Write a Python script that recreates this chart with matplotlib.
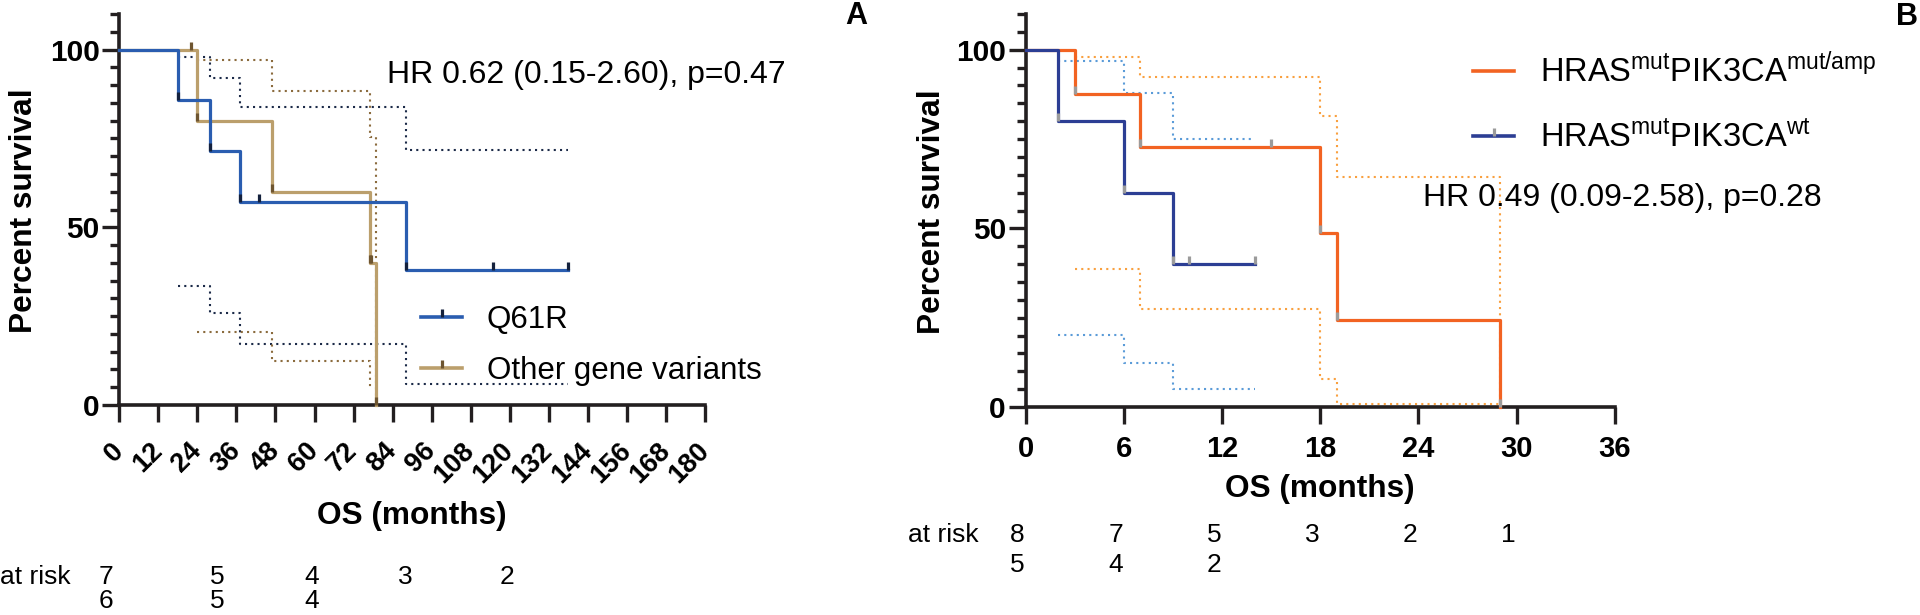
import matplotlib.pyplot as plt
from matplotlib.lines import Line2D
from matplotlib.ticker import FixedLocator
from matplotlib.transforms import blended_transform_factory

plt.rcParams['font.family'] = ['Liberation Sans', 'DejaVu Sans']
plt.rcParams['mathtext.fontset'] = 'custom'
plt.rcParams['mathtext.rm'] = 'Liberation Sans'
plt.rcParams['mathtext.it'] = 'Liberation Sans:italic'
plt.rcParams['mathtext.bf'] = 'Liberation Sans:bold'

# ---- panel A: Q61R vs other gene variants ----
q61r_t = [0, 18, 28, 37, 43, 88, 115, 138]
q61r_s = [100, 85.7, 71.4, 57.1, 57.1, 38.1, 38.1, 38.1]
q61r_ci_t = [18, 28, 37, 88, 138]
q61r_hi = [97.9, 92.1, 83.8, 71.8, 71.8]
q61r_lo = [33.4, 25.8, 17.1, 5.9, 5.9]

other_t = [0, 22, 24, 47, 77, 77.5, 79]
other_s = [100, 100, 80, 60, 40, 40, 0]
other_hi_t = [24, 47, 77, 79, 79]
other_hi = [97.0, 88.3, 75.5, 74.5, 0]
other_lo_t = [24, 47, 77, 78]
other_lo = [20.4, 12.5, 5.0, 5.0]

risk_a = [[7, 5, 4, 3, 2], [6, 5, 4]]
hr_a = 'HR 0.62 (0.15-2.60), p=0.47'

# ---- panel B: HRAS/PIK3CA ----
amp_t = [0, 3, 7, 15, 18, 19, 29]
amp_s = [100, 87.5, 72.9, 72.9, 48.6, 24.3, 0]
amp_hi_t = [3, 7, 18, 19, 29, 29]
amp_hi = [98.0, 92.4, 81.5, 64.3, 64.3, 0]
amp_lo_t = [3, 7, 18, 19, 29]
amp_lo = [38.6, 27.4, 7.7, 0.8, 0.8]

wt_t = [0, 2, 6, 9, 10, 14]
wt_s = [100, 80, 60, 40, 40, 40]
wt_ci_t = [2, 6, 9, 14]
wt_hi = [96.8, 87.9, 75.1, 75.1]
wt_lo = [20.1, 12.4, 4.9, 4.9]

risk_b = [[8, 7, 5, 3, 2, 1], [5, 4, 2]]
hr_b = 'HR 0.49 (0.09-2.58), p=0.28'

W, H = 1920, 615
AXC = '#231f20'


def fx(x):
    return x / W


def fy(y):
    return 1 - y / H


def km(ax, t, s, color, mcolor):
    ax.step(t, s, where='post', color=color, lw=2.3, clip_on=False, zorder=3)
    ax.plot(t[1:], s[1:], ls='none', marker=2, ms=5.5, mew=2.3,
            color=mcolor, clip_on=False, zorder=4)


def ci(ax, t, v, color):
    ax.step(t, v, where='post', color=color, lw=1.5, ls=(0, (1, 2)),
            clip_on=False, zorder=2)


def style(ax):
    for sp in ['top', 'right']:
        ax.spines[sp].set_visible(False)
    for sp in ['left', 'bottom']:
        ax.spines[sp].set_linewidth(2.6)
        ax.spines[sp].set_color(AXC)
    ax.set_ylim(0, 110)
    ax.set_yticks([0, 50, 100])
    ax.yaxis.set_minor_locator(FixedLocator(range(0, 115, 5)))
    ax.tick_params(which='major', length=12.2, width=2.4, color=AXC)
    ax.tick_params(which='minor', axis='y', length=6.5, width=2.4, color=AXC)
    ax.tick_params(axis='y', pad=2, labelsize=21.5)
    for lab in ax.get_yticklabels():
        lab.set_fontweight('bold')
    ax.set_ylabel('Percent survival', fontweight='bold', fontsize=22.8)
    ax.set_xlabel('OS (months)', fontweight='bold', fontsize=22.8)


fig = plt.figure(figsize=(19.2, 6.15), dpi=100)
ax1 = fig.add_axes([fx(119.3), fy(405), 585.7 / W, 391 / H])
ax2 = fig.add_axes([fx(1025.7), fy(407), 589 / W, 393 / H])

# panel A
ci(ax1, q61r_ci_t, q61r_hi, '#1b2a48')
ci(ax1, q61r_ci_t, q61r_lo, '#1b2a48')
ci(ax1, other_hi_t, other_hi, '#8b6b3d')
ci(ax1, other_lo_t, other_lo, '#8b6b3d')
km(ax1, other_t, other_s, '#bb9f6c', '#6e5530')
km(ax1, q61r_t, q61r_s, '#2a5db0', '#14213d')
style(ax1)
ax1.set_xlim(0, 180)
ax1.set_xticks(range(0, 181, 12))
ax1.set_xticklabels([str(v) for v in range(0, 181, 12)], rotation=45,
                    ha='right', va='center', rotation_mode='anchor',
                    fontweight='bold', fontsize=19.5)
ax1.tick_params(axis='x', pad=18)
ax1.yaxis.set_label_coords(-0.1376, 0.497)
ax1.xaxis.set_label_coords(0.5, -0.2455)

# panel B
ci(ax2, amp_hi_t, amp_hi, '#f9a03f')
ci(ax2, amp_lo_t, amp_lo, '#f9a03f')
ci(ax2, wt_ci_t, wt_hi, '#5a9bd8')
ci(ax2, wt_ci_t, wt_lo, '#5a9bd8')
km(ax2, amp_t, amp_s, '#f26322', '#9b9b9b')
km(ax2, wt_t, wt_s, '#2c3e94', '#9b9b9b')
style(ax2)
ax2.set_xlim(0, 36)
ax2.set_xticks(range(0, 37, 6))
ax2.tick_params(axis='x', pad=8, labelsize=21)
for lab in ax2.get_xticklabels():
    lab.set_fontweight('bold')
ax2.yaxis.set_label_coords(-0.134, 0.497)
ax2.xaxis.set_label_coords(0.5, -0.1705)

# legends (drawn by hand to sit where the reference has them)
fig.add_artist(Line2D([fx(421), fx(462)], [fy(317)] * 2, color='#2a5db0', lw=2.6))
fig.add_artist(Line2D([fx(441.5)], [fy(317)], marker=2, ms=6, mew=2.3,
                      color='#14213d', ls='none'))
fig.text(fx(487), fy(328.2), 'Q61R', fontsize=22.5, va='baseline')
fig.add_artist(Line2D([fx(421), fx(462)], [fy(368)] * 2, color='#bb9f6c', lw=2.6))
fig.add_artist(Line2D([fx(441.5)], [fy(368)], marker=2, ms=6, mew=2.3,
                      color='#6e5530', ls='none'))
fig.text(fx(487), fy(379.2), 'Other gene variants', fontsize=22.5, va='baseline')

fig.add_artist(Line2D([fx(1473), fx(1514)], [fy(71)] * 2, color='#f26322', lw=2.6))
fig.text(fx(1540), fy(82), r'HRAS$^{\mathrm{mut}}$PIK3CA$^{\mathrm{mut/amp}}$',
         fontsize=23.5, va='baseline')
fig.add_artist(Line2D([fx(1473), fx(1514)], [fy(136)] * 2, color='#2c3e94', lw=2.6))
fig.add_artist(Line2D([fx(1493.5)], [fy(136)], marker=2, ms=6, mew=2.3,
                      color='#9b9b9b', ls='none'))
fig.text(fx(1540), fy(147), r'HRAS$^{\mathrm{mut}}$PIK3CA$^{\mathrm{wt}}$',
         fontsize=23.5, va='baseline')

# hazard ratios
fig.text(fx(387), fy(83.5), hr_a, fontsize=23, va='baseline')
fig.text(fx(1423), fy(206.5), hr_b, fontsize=23, va='baseline')

# panel letters
fig.text(fx(856), fy(16), 'A', fontsize=22, fontweight='bold', ha='center', va='center')
fig.text(fx(1907), fy(17), 'B', fontsize=22, fontweight='bold', ha='center', va='center')

# numbers at risk
risk_x_a = [-4, 30, 59, 88, 119]
risk_x_b = [-0.5, 5.5, 11.5, 17.5, 23.5, 29.5]
tr1 = blended_transform_factory(ax1.transData, fig.transFigure)
tr2 = blended_transform_factory(ax2.transData, fig.transFigure)
fig.text(fx(0), fy(584), 'at risk', fontsize=19, va='baseline')
for row, yb in zip(risk_a, [584, 608.5]):
    for x, n in zip(risk_x_a, row):
        ax1.text(x, fy(yb), str(n), transform=tr1, fontsize=19, ha='center',
                 va='baseline', clip_on=False)
fig.text(fx(907.5), fy(542.4), 'at risk', fontsize=19, va='baseline')
for row, yb in zip(risk_b, [542.4, 572.4]):
    for x, n in zip(risk_x_b, row):
        ax2.text(x, fy(yb), str(n), transform=tr2, fontsize=19, ha='center',
                 va='baseline', clip_on=False)

fig.savefig('out.png', dpi=100)
